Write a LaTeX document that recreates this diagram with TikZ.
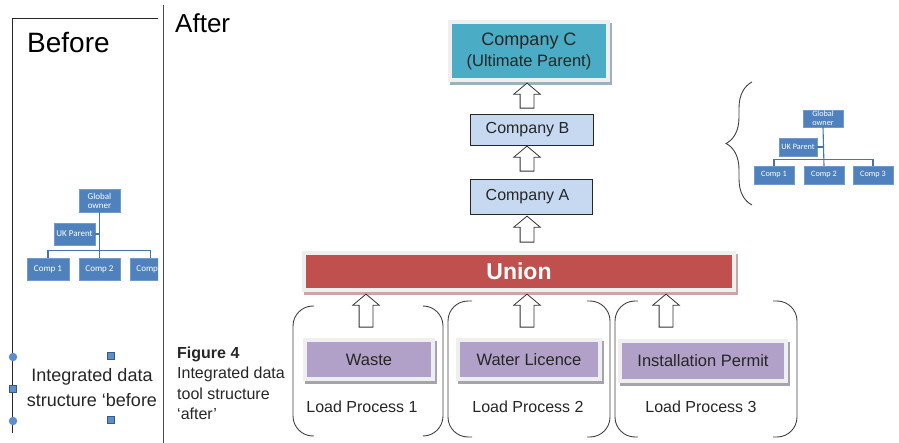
\documentclass[tikz,border=0pt]{standalone}
\usepackage{fontspec}
\setmainfont{Liberation Sans}
\newfontfamily\chartfont{Carlito}
\usetikzlibrary{shapes.arrows,decorations.pathreplacing,calc}

\definecolor{steel}{HTML}{4F81BD}
\definecolor{tealbox}{HTML}{4BACC6}
\definecolor{paleblue}{HTML}{C6D9F1}
\definecolor{unionred}{HTML}{C0504D}
\definecolor{lilac}{HTML}{B1A0C7}
\definecolor{framegray}{HTML}{EFEFEF}
\definecolor{cshadow}{HTML}{9DB1BC}
\definecolor{rshadow}{HTML}{D0A4A3}
\definecolor{pshadow}{HTML}{A8A1AF}
\definecolor{handle}{HTML}{5B8FD0}
\definecolor{inkgray}{HTML}{262626}

\begin{document}
\begin{tikzpicture}[x=1pt,y=-1pt,
  orgbox/.style={fill=steel, draw=steel!80!white, text=white, inner sep=0pt,
    font=\chartfont\fontsize{#1}{9}\selectfont, align=center},
  orgline/.style={draw=steel!90!black, line width=1.1pt},
  raised/.style 2 args={
    preaction={draw=#2, fill=#2, line width=8pt, transform canvas={xshift=1.5pt, yshift=-3pt}},
    preaction={draw=#1, line width=8pt}},
  cobox/.style={draw=black!85, line width=0.9pt, fill=paleblue, inner sep=0pt,
    text=inkgray, font=\fontsize{16}{19}\selectfont},
  permit/.style={raised={framegray}{pshadow}, fill=lilac, inner sep=0pt,
    text=inkgray, font=\fontsize{16.5}{19}\selectfont, minimum height=35pt},
  upblock/.style={single arrow, rotate=90, draw=black!80, fill=white, line width=0.8pt,
    inner sep=6.5pt, single arrow head extend=6.5pt, single arrow tip angle=100,
    minimum height=#1},
  bracket/.style={draw=black!75, line width=0.9pt, rounded corners=20pt},
  plain/.style={text=inkgray, inner sep=0pt},
  handlesq/.style={draw=steel!70!black, fill=handle, line width=0.5pt, minimum size=7pt, inner sep=0pt},
  handlecirc/.style={circle, fill=handle, minimum size=8.5pt, inner sep=0pt}
]
\useasboundingbox (0,0) rectangle (899,443);

% ---------- left panel ----------
\draw[black!85, line width=0.9pt] (158,18) -- (12,18) -- (12,433);
\draw[black!70, line width=0.9pt] (163,5) -- (163,443);

\begin{scope}
  \clip (0,0) rectangle (158,443);
  \node[anchor=base west, plain, text=black, font=\fontsize{28}{30}\selectfont] (before) at (27,53) {Before};

  \node[orgbox=9, minimum width=41pt, minimum height=23pt] (lgo) at (99.5,200.5) {Global\\owner};
  \node[orgbox=9, minimum width=41pt, minimum height=22pt] (luk) at (74.5,234) {UK Parent};
  \node[orgbox=9, minimum width=42pt, minimum height=22pt] (lc1) at (48,269) {Comp 1};
  \node[orgbox=9, minimum width=41pt, minimum height=22pt] (lc2) at (99.5,269) {Comp 2};
  \node[orgbox=9, minimum width=41pt, minimum height=22pt] (lc3) at (150.5,269) {Comp 3};
  \draw[orgline] (lgo.south) -- (lc2.north);
  \draw[orgline] (lc1.north) -- ++(0,-7) -| (lc3.north);
  \draw[orgline] (luk.east) -- (luk.east -| lgo.south);

  \node[plain, align=center, font=\fontsize{18}{25}\selectfont] (bcap) at (92,387.5)
    {Integrated data\\structure ‘before};
\end{scope}

% selection handles round the caption
\node[handlecirc] (h1) at (13,357) {};
\node[handlecirc] (h2) at (13,421) {};
\node[handlesq] (h3) at (13,389) {};
\node[handlesq] (h4) at (111,356) {};
\node[handlesq] (h5) at (111,420) {};

% ---------- right panel ----------
\node[anchor=base west, plain, text=black, font=\fontsize{26}{30}\selectfont] (after) at (175,33) {After};

\node[raised={framegray}{cshadow}, fill=tealbox, minimum width=154pt, minimum height=54pt,
  inner sep=0pt, align=center, text=inkgray, font=\fontsize{16.5}{21}\selectfont] (cC) at (529,51)
  {{\fontsize{18}{21}\selectfont Company C}\\(Ultimate Parent)};
\node[cobox, minimum width=123pt, minimum height=31pt] (cB) at (531.5,129.5) {Company B\hspace*{8pt}};
\node[cobox, minimum width=122pt, minimum height=35pt] (cA) at (531,196.5) {Company A\hspace*{7pt}};

\node[raised={framegray}{rshadow}, fill=unionred, minimum width=426pt, minimum height=33pt,
  inner sep=0pt, text=white, font=\bfseries\fontsize{23}{25}\selectfont] (union) at (519,271.5) {Union};

\node[upblock=25pt] (ar1) at (527,98.5) {};
\node[upblock=25pt] (ar2) at (527,161.5) {};
\node[upblock=26pt] (ar3) at (527,232) {};

% load processes
\node[permit, minimum width=124pt] (waste) at (369,359.5) {Waste};
\node[permit, minimum width=138pt] (water) at (529,359.5) {Water Licence};
\node[permit, minimum width=162pt, minimum height=36pt] (install) at (703,361) {Installation Permit};

\node[upblock=33pt] (ar4) at (366,313.5) {};
\node[upblock=33pt] (ar5) at (527,313.5) {};
\node[upblock=33pt] (ar6) at (666,313.5) {};

\node[plain, font=\fontsize{16}{19}\selectfont] (lp1) at (362,407) {Load Process 1};
\node[plain, font=\fontsize{16}{19}\selectfont] (lp2) at (528,407) {Load Process 2};
\node[plain, font=\fontsize{16}{19}\selectfont] (lp3) at (701,407) {Load Process 3};

\draw[bracket] (314,306) -- (293,306) -- (293,436) -- (314,436);
\draw[bracket] (423,306) -- (443,306) -- (443,436) -- (423,436);
\draw[bracket] (472,301) -- (448,301) -- (448,437) -- (472,437);
\draw[bracket] (587,301) -- (610,301) -- (610,437) -- (587,437);
\draw[bracket] (638,301) -- (615,301) -- (615,437) -- (638,437);
\draw[bracket] (773,301) -- (797,301) -- (797,437) -- (773,437);

\node[anchor=north west, plain, align=left, font=\fontsize{16}{20.5}\selectfont] (cap) at (177,346.5)
  {\textbf{Figure 4}\\Integrated data\\tool structure\\‘after’};

% ---------- small chart with brace ----------
\draw[decorate, decoration={brace, amplitude=26pt}, draw=black!75, line width=0.9pt] (752,205) -- (752,82);

\node[orgbox=8.2, minimum width=40pt, minimum height=17pt] (rgo) at (823,118.5) {Global\\owner};
\node[orgbox=8.2, minimum width=38pt, minimum height=18pt] (ruk) at (798,147) {UK Parent};
\node[orgbox=8.2, minimum width=40pt, minimum height=18pt] (rc1) at (774,175) {Comp 1};
\node[orgbox=8.2, minimum width=40pt, minimum height=18pt] (rc2) at (824,175) {Comp 2};
\node[orgbox=8.2, minimum width=40pt, minimum height=18pt] (rc3) at (873,175) {Comp 3};
\draw[orgline] (rgo.south) -- (rc2.north);
\draw[orgline] (rc1.north) -- ++(0,-6) -| (rc3.north);
\draw[orgline] (ruk.east) -- (ruk.east -| rgo.south);
\end{tikzpicture}
\end{document}
